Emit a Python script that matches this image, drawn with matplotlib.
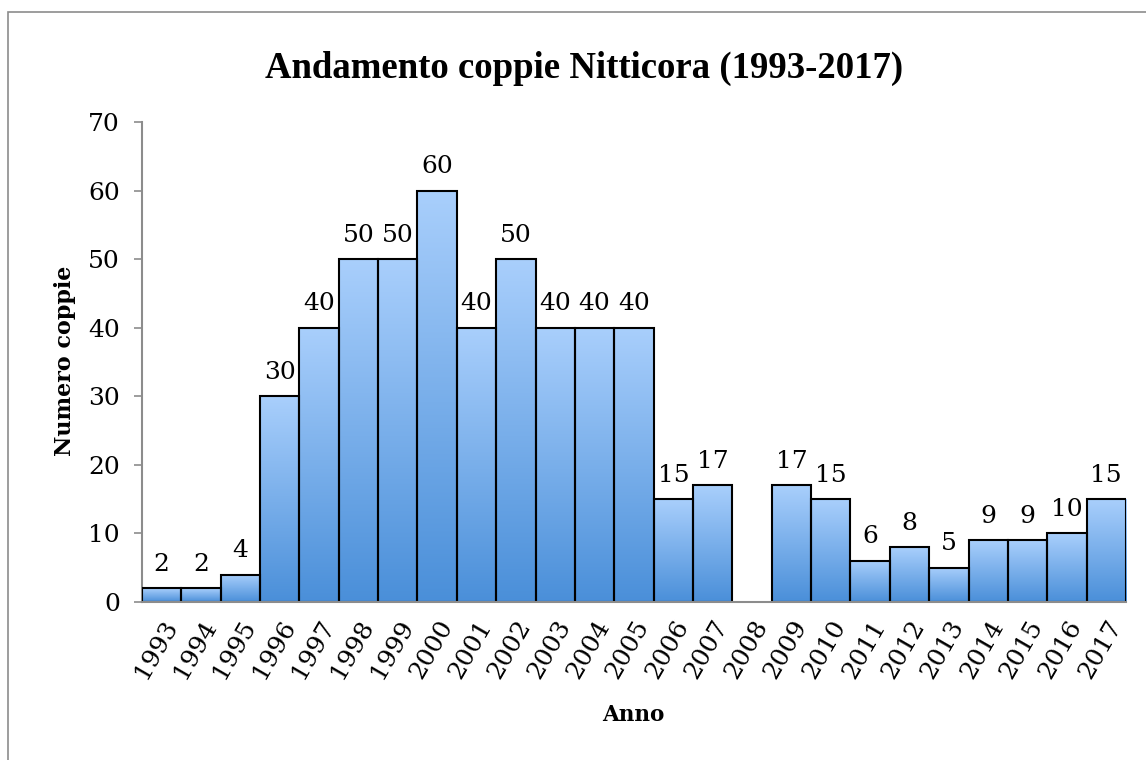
import numpy as np
import matplotlib.pyplot as plt
from matplotlib.colors import LinearSegmentedColormap
from matplotlib.patches import Rectangle

# coppie di Nitticora per anno (2008: nessun dato)
anni = [str(a) for a in range(1993, 2018)]
coppie = [2, 2, 4, 30, 40, 50, 50, 60, 40, 50, 40, 40, 40, 15, 17,
          np.nan, 17, 15, 6, 8, 5, 9, 9, 10, 15]
y_ticks = [0, 10, 20, 30, 40, 50, 60, 70]

serif = ['DejaVu Serif']
times = ['Liberation Serif']

fig = plt.figure(figsize=(11.46, 7.6), dpi=100)
ax = fig.add_axes([0.1239, 0.2079, 0.8586, 0.6316])

# gray border of the chart area
fig.patches.append(Rectangle((8 / 1146, -0.05), 1.2, 1 - 12 / 760 + 0.05,
                             transform=fig.transFigure, fill=False,
                             edgecolor='#8c8c8c', linewidth=1.2))

x = np.arange(len(anni))
bars = ax.bar(x, coppie, width=1.0, color='none', edgecolor='black',
              linewidth=1.5, zorder=3)

grad = LinearSegmentedColormap.from_list('g', ['#4a8fd9', '#a9cffc'])
gimg = np.linspace(0, 1, 256).reshape(-1, 1)
for b, v in zip(bars, coppie):
    if np.isnan(v):
        continue
    x0 = b.get_x()
    im = ax.imshow(gimg, cmap=grad, origin='lower', aspect='auto',
                   extent=(x0, x0 + b.get_width(), 0, v), zorder=2)
    im.set_clip_path(b)
    ax.annotate(f'{int(v)}', (x0 + b.get_width() / 2, v),
                xytext=(0, 9), textcoords='offset points',
                ha='center', va='bottom', fontsize=18, family=serif)

ax.set_xlim(-0.5, len(anni) - 0.5)
ax.set_ylim(0, 70)
ax.set_yticks(y_ticks)
ax.set_yticklabels([str(t) for t in y_ticks], fontsize=18, family=serif)
ax.set_xticks(x)
ax.set_xticklabels(anni, fontsize=18, family=serif, rotation=60,
                   ha='right', rotation_mode='anchor')
ax.tick_params(axis='x', length=0, pad=10)
ax.tick_params(axis='y', length=6, color='#8c8c8c', width=1.2, pad=10)

for s in ['top', 'right']:
    ax.spines[s].set_visible(False)
for s in ['left', 'bottom']:
    ax.spines[s].set_color('#8c8c8c')
    ax.spines[s].set_linewidth(1.5)
ax.spines['bottom'].set_zorder(4)

fig.text(0.510, 0.9105, 'Andamento coppie Nitticora (1993-2017)',
         ha='center', va='center', fontsize=26.5, fontweight='bold', family=times)
fig.text(0.057, 0.525, 'Numero coppie', rotation=90, ha='center',
         va='center', fontsize=16, fontweight='bold', family=serif)
fig.text(0.553, 0.059, 'Anno', ha='center', va='center', fontsize=15.5,
         fontweight='bold', family=serif)

fig.savefig('out.png', dpi=100)
